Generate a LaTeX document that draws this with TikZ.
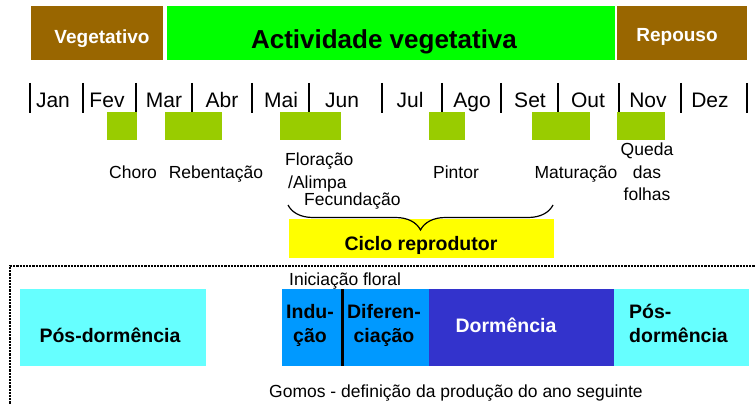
\documentclass[tikz,border=0pt]{standalone}
\usepackage{fontspec}
\setmainfont{Liberation Sans}
\usepackage{xcolor}
\usetikzlibrary{positioning, decorations.pathreplacing}
\definecolor{vegbrown}{HTML}{996600}
\definecolor{actgreen}{HTML}{00FF00}
\definecolor{stagegreen}{HTML}{99CC00}
\definecolor{cicloyellow}{HTML}{FFFF00}
\definecolor{poscyan}{HTML}{66FFFF}
\definecolor{indblue}{HTML}{0099FF}
\definecolor{dormblue}{HTML}{3333CC}
\tikzset{
  phasebox/.style={inner sep=0pt, minimum height=54pt, anchor=north west},
  budbox/.style={inner sep=0pt, minimum height=77pt, anchor=north west},
  stagebar/.style={fill=stagegreen},
  monthtext/.style={anchor=base, inner sep=0pt, font=\fontsize{21}{25}\selectfont},
  stagetext/.style={anchor=base, inner sep=0pt, font=\fontsize{17.5}{22}\selectfont},
  boldtext/.style={anchor=base, inner sep=0pt, font=\bfseries\fontsize{19.5}{24}\selectfont},
  monthbar/.style={line width=2pt},
  bracearrow/.style={decorate, decoration={brace, amplitude=25pt, mirror}, line width=1.2pt}
}
\begin{document}
\begin{tikzpicture}[x=1pt, y=-1pt]
\useasboundingbox (0,0) rectangle (755,404);
\fill[white] (0,0) rectangle (755,404);

% Periods
\node[phasebox, fill=vegbrown, minimum width=132pt] (vegetativo) at (31,6) {};
\node[phasebox, fill=actgreen, minimum width=448pt, right=3pt of vegetativo] (actividade) {};
\node[phasebox, fill=vegbrown, minimum width=130pt, right=2pt of actividade] (repouso) {};
\node[boldtext, text=white, font=\bfseries\fontsize{19}{23}\selectfont] (tvegetativo) at (102,43.5) {Vegetativo};
\node[boldtext, font=\bfseries\fontsize{26}{30}\selectfont] (tactividade) at (384,48.3) {Actividade vegetativa};
\node[boldtext, text=white, font=\bfseries\fontsize{19}{23}\selectfont] (trepouso) at (677,42) {Repouso};

% Months
\foreach \x in {30,83,136,192,252,309,382,442,501,558,619,681,747}
  \draw[monthbar] (\x,83) -- (\x,113);
\foreach \m/\x in {Jan/53,Fev/107,Mar/164,Abr/222,Mai/281,Jun/342,Jul/410,Ago/472,Set/530,Out/588,Nov/648,Dez/710}
  \node[monthtext] (m\m) at (\x,107) {\m};

% Stages
\foreach \a/\b in {107/137,165/222,280/341,429/465,532/590,617/665}
  \fill[stagebar] (\a,112) rectangle (\b,140);
\node[stagetext] (choro) at (133,178) {Choro};
\node[stagetext] (rebentacao) at (216,178) {Rebentação};
\node[stagetext, anchor=base west] (floracao) at (285,165) {Floração};
\node[stagetext, anchor=base west] (alimpa) at (288,188) {/Alimpa};
\node[stagetext, anchor=base west] (fecundacao) at (304,205) {Fecundação};
\node[stagetext] (pintor) at (456,178) {Pintor};
\node[stagetext] (maturacao) at (576,178) {Maturação};
\node[stagetext] (queda) at (647,155) {Queda};
\node[stagetext] (das) at (647,178) {das};
\node[stagetext] (folhas) at (647,200) {folhas};

% Reproductive cycle
\node[inner sep=0pt, fill=cicloyellow, minimum width=265pt, minimum height=39pt, anchor=north west] (ciclo) at (289,219) {};
\node[boldtext] (tciclo) at (421,250) {Ciclo reprodutor};
\coordinate (bracel) at (288,205);
\coordinate (bracer) at (553,205);
\draw[bracearrow] (bracel) -- (bracer);

% Buds
\draw[line width=2pt, dash pattern=on 2.2pt off 1pt] (10,410) -- (10,266) -- (760,266);
\node[stagetext, anchor=base west] (iniciacao) at (289,285) {Iniciação floral};
\node[budbox, fill=poscyan, minimum width=186pt] (posleft) at (20,289) {};
\node[budbox, fill=indblue, minimum width=60pt] (inducao) at (282,289) {};
\node[budbox, fill=indblue, minimum width=86pt, right=0pt of inducao] (diferenciacao) {};
\node[budbox, fill=dormblue, minimum width=185pt, right=0pt of diferenciacao] (dormencia) {};
\node[budbox, fill=poscyan, minimum width=135pt, right=0pt of dormencia] (posright) {};
\draw[line width=3pt] (inducao.north east) -- (inducao.south east);
\node[boldtext] (tposleft) at (110,342) {Pós-dormência};
\node[boldtext] (tindu) at (310,318) {Indu-};
\node[boldtext] (tcao) at (310,342) {ção};
\node[boldtext] (tdiferen) at (384,318) {Diferen-};
\node[boldtext] (tciacao) at (384,342) {ciação};
\node[boldtext, text=white] (tdormencia) at (506,332) {Dormência};
\node[boldtext, anchor=base west] (tpos) at (629,318) {Pós-};
\node[boldtext, anchor=base west] (tdorm) at (629,342) {dormência};
\node[stagetext] (gomos) at (456,397) {Gomos - definição da produção do ano seguinte};

\end{tikzpicture}
\end{document}
